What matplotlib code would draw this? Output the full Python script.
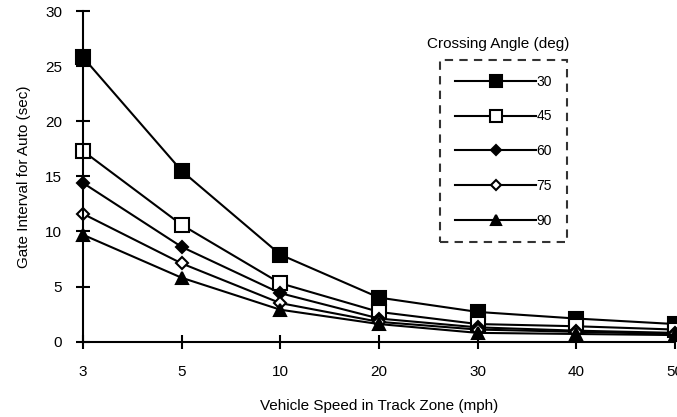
import matplotlib
matplotlib.use("Agg")
import matplotlib.pyplot as plt

plt.rcParams['font.family'] = ['Liberation Sans', 'DejaVu Sans']

speeds = ["3", "5", "10", "20", "30", "40", "50"]
angles = ["30", "45", "60", "75", "90"]
gate_30 = [25.8, 15.5, 7.9, 4.0, 2.7, 2.1, 1.6]
gate_45 = [17.3, 10.6, 5.3, 2.7, 1.6, 1.4, 1.1]
gate_60 = [14.4, 8.6, 4.4, 2.1, 1.3, 1.0, 0.8]
gate_75 = [11.6, 7.1, 3.5, 1.8, 1.1, 0.9, 0.7]
gate_90 = [9.7, 5.8, 2.9, 1.6, 0.8, 0.7, 0.6]
series = [gate_30, gate_45, gate_60, gate_75, gate_90]

styles = [
    dict(marker='s', markersize=9.5, markerfacecolor='black'),
    dict(marker='s', markersize=9.5, markerfacecolor='white'),
    dict(marker='D', markersize=6.5, markerfacecolor='black'),
    dict(marker='D', markersize=6.5, markerfacecolor='white'),
    dict(marker='^', markersize=8.5, markerfacecolor='black'),
]

fig = plt.figure(figsize=(6.77, 4.17), dpi=100)
ax = fig.add_axes([0.1226, 0.1806, 0.8744, 0.793])

x = list(range(len(speeds)))
handles = []
for vals, st in zip(series, styles):
    h, = ax.plot(x, vals, color='black', linewidth=1.5,
                 markeredgecolor='black', markeredgewidth=1.5,
                 clip_on=False, **st)
    handles.append(h)

ax.set_xlim(0, 6)
ax.set_ylim(0, 30)
ax.set_xticks(x)
ax.set_xticklabels(speeds)
ax.set_yticks([0, 5, 10, 15, 20, 25, 30])
for s in ('top', 'right'):
    ax.spines[s].set_visible(False)
for s in ('left', 'bottom'):
    ax.spines[s].set_linewidth(1.5)
ax.tick_params(axis='both', direction='inout', length=10, width=1.5,
               labelsize=11, colors='black')
ax.tick_params(axis='x', pad=12)
ax.tick_params(axis='y', pad=10)
ax.set_xlabel("Vehicle Speed in Track Zone (mph)", fontsize=11, labelpad=14)
ax.set_ylabel("Gate Interval for Auto (sec)", fontsize=11, labelpad=10)

leg = ax.legend(handles, angles, loc='upper left',
                bbox_to_anchor=(0.603, 0.852), frameon=True, fancybox=False,
                handlelength=5.9, handletextpad=0.0, labelspacing=1.5,
                borderpad=1.05, borderaxespad=0, fontsize=10,
                edgecolor='black', markerscale=0.85)
leg.get_frame().set_linestyle((0, (4, 3)))
leg.get_frame().set_linewidth(1.5)
fig.text(0.736, 0.894, "Crossing Angle (deg)", ha='center', va='center',
         fontsize=11)

fig.savefig("out.png", dpi=100)
